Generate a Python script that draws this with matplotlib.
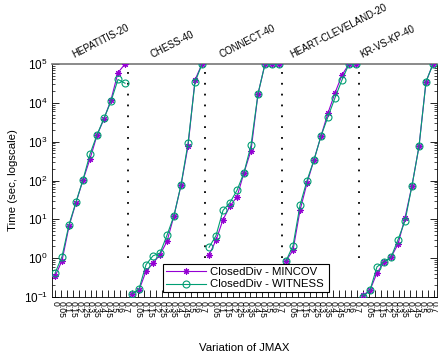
import matplotlib
matplotlib.use('Agg')
import matplotlib.pyplot as plt
import numpy as np
from matplotlib.ticker import LogLocator, NullFormatter, FixedLocator, FixedFormatter
import matplotlib.transforms as mtransforms

plt.rcParams['font.family'] = ['Liberation Sans', 'DejaVu Sans']
plt.rcParams['mathtext.fontset'] = 'custom'
plt.rcParams['mathtext.rm'] = 'Liberation Sans'

datasets = ["HEPATITIS-20", "CHESS-40", "CONNECT-40", "HEART-CLEVELAND-20", "KR-VS-KP-40"]
jmax_labels = ["0", "0.05", "0.1", "0.15", "0.2", "0.25", "0.3", "0.35",
               "0.4", "0.45", "0.5", "0.6", "0.7"]

mincov_hepatitis = [0.34, 0.86, 6.6, 27, 103, 360, 1460, 3880, 12000, 60000, 100000]
witness_hepatitis = [0.41, 1.1, 7.3, 28, 105, 480, 1500, 4000, 11000, 40000, 32000]
mincov_chess = [0.12, 0.15, 0.46, 0.74, 1.23, 2.7, 12.5, 75, 760, 39000, 100000]
witness_chess = [0.12, 0.16, 0.68, 1.15, 1.35, 3.9, 12.5, 77, 900, 34000, 100000]
mincov_connect = [1.2, 2.9, 9.8, 22, 38, 160, 590, 17000, 100000, 100000, 100000]
witness_connect = [1.9, 3.8, 17, 27, 56, 160, 810, 17000, 100000, 100000, 100000]
mincov_heart = [0.85, 1.6, 17, 86, 340, 1400, 5500, 18000, 52000, 100000, 100000]
witness_heart = [0.85, 2.1, 23, 100, 340, 1400, 4400, 13500, 39000, 100000, 100000]
mincov_krvskp = [0.11, 0.15, 0.42, 0.78, 1.05, 2.3, 11, 74, 760, 35000, 100000]
witness_krvskp = [0.1, 0.15, 0.6, 0.8, 1.05, 3.0, 9.1, 74, 760, 35000, 100000]

mincov = [mincov_hepatitis, mincov_chess, mincov_connect, mincov_heart, mincov_krvskp]
witness = [witness_hepatitis, witness_chess, witness_connect, witness_heart, witness_krvskp]

PURPLE = '#9400D3'
TEAL = '#009E73'

fig = plt.figure(figsize=(4.39, 3.55), dpi=100)
ax = fig.add_axes([52/439, 1-297/355, 385/439, 233/355])

npts = 11
star = (8, 2, 0)
for g in range(len(datasets)):
    xs = np.arange(npts) + g * npts
    ax.plot(xs, mincov[g], color=PURPLE, lw=0.8, marker=star, ms=4.5, mew=0.8,
            label='ClosedDiv - MINCOV' if g == 0 else None, zorder=3)
    ax.plot(xs, witness[g], color=TEAL, lw=0.8, marker='o', ms=5, mfc='none', mew=0.8,
            label='ClosedDiv - WITNESS' if g == 0 else None, zorder=4)

# separators
for g in range(len(datasets) - 1):
    xsep = g * npts + 10.4
    ax.plot([xsep, xsep], [1, 1e5], color='black', lw=1.3, ls=(0, (1, 5)),
            dash_capstyle='butt', zorder=2)

ax.set_yscale('log')
ax.set_ylim(0.1, 1e5)
ax.set_xlim(-0.43, 54.57)

# title text for groups
title_x = [2.86, 14.0, 23.9, 34.0, 44.0]
trans = mtransforms.blended_transform_factory(ax.transData, ax.transAxes)
for name, tx in zip(datasets, title_x):
    ax.text(tx, 1.02, name, transform=trans, rotation=27, rotation_mode='anchor',
            ha='left', va='bottom', fontsize=7)

# x ticks
ticks = []
labels = []
for g in range(len(datasets)):
    for j, lab in enumerate(jmax_labels):
        ticks.append(g * npts + j * npts / len(jmax_labels))
        labels.append(lab)
ax.xaxis.set_major_locator(FixedLocator(ticks))
ax.xaxis.set_major_formatter(FixedFormatter(labels))
ax.tick_params(axis='x', which='major', direction='in', length=5, width=0.6,
               labelsize=6.2, labelrotation=-90, pad=3, top=False)

ax.yaxis.set_major_locator(LogLocator(base=10, numticks=10))
ax.yaxis.set_minor_locator(LogLocator(base=10, subs=np.arange(2, 10), numticks=10))
ax.yaxis.set_minor_formatter(NullFormatter())
ax.tick_params(axis='y', which='major', direction='in', length=5, width=0.6,
               labelsize=8.5, right=True, pad=3)
ax.tick_params(axis='y', which='minor', direction='in', length=2.5, width=0.5, right=True)
for lab in ax.get_xticklabels():
    lab.set_va('top')
    lab.set_ha('center')

for s in ['left', 'right', 'bottom']:
    ax.spines[s].set_linewidth(0.6)
ax.spines['top'].set_linewidth(1.2)
ax.spines['top'].set_color('#777777')

ax.set_xlabel('Variation of JMAX', fontsize=8.2, labelpad=18)
ax.set_ylabel('Time (sec, logscale)', fontsize=8.2, labelpad=4)

leg = ax.legend(loc='lower left', bbox_to_anchor=(0.288, 0.02, 0.431, 0.13),
                mode='expand', fontsize=8.2, frameon=True, fancybox=False,
                edgecolor='black', framealpha=1, handlelength=3.5, borderpad=0.25,
                labelspacing=0.25, handletextpad=0.4, borderaxespad=0)
leg.get_frame().set_linewidth(0.8)

fig.savefig('out.png', dpi=100)
